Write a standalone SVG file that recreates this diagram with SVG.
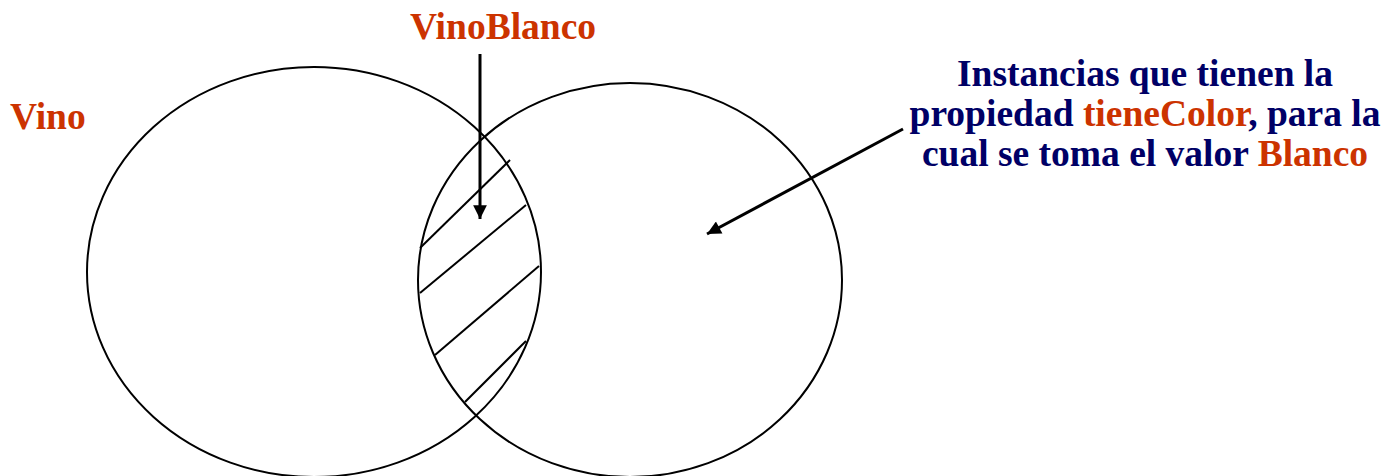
<svg xmlns="http://www.w3.org/2000/svg" width="1382" height="476" viewBox="0 0 1382 476">
<defs>
<marker id="ah" viewBox="0 0 10 10" refX="10" refY="5" markerWidth="5.5" markerHeight="4.6" markerUnits="strokeWidth" orient="auto">
<path d="M0,0 L10,5 L0,10 z" fill="#000"/>
</marker>
<style>
.set{fill:none;stroke:#000;stroke-width:2}
.hatch{stroke:#000;stroke-width:2}
.conn{stroke:#000;stroke-width:3;fill:none}
.t{font-family:"Liberation Serif","Times New Roman",serif;font-weight:bold;font-size:37.5px}
.o{fill:#CC3300}
.n{fill:#000066}
</style>
</defs>
<g id="vino">
<ellipse class="set" cx="314" cy="272" rx="227" ry="205"/>
<text class="t o" x="10" y="129">Vino</text>
</g>
<g id="blanco">
<ellipse class="set" cx="630" cy="280" rx="212" ry="197"/>
<text class="t n" text-anchor="middle" x="1145" y="86">Instancias que tienen la</text>
<text class="t n" text-anchor="middle" x="1145" y="126">propiedad <tspan class="o">tieneColor</tspan>, para la</text>
<text class="t n" text-anchor="middle" x="1145" y="166">cual se toma el valor <tspan class="o">Blanco</tspan></text>
</g>
<g id="vinoblanco">
<line class="hatch" x1="510" y1="160" x2="420" y2="248"/>
<line class="hatch" x1="526" y1="205" x2="420" y2="293"/>
<line class="hatch" x1="539" y1="266" x2="435" y2="355"/>
<line class="hatch" x1="526" y1="341" x2="465" y2="402"/>
<text class="t o" text-anchor="middle" x="503" y="39">VinoBlanco</text>
</g>
<g id="connectors">
<line class="conn" x1="480" y1="54" x2="480" y2="219" marker-end="url(#ah)"/>
<line class="conn" x1="903" y1="129" x2="707" y2="234" marker-end="url(#ah)"/>
</g>
</svg>
